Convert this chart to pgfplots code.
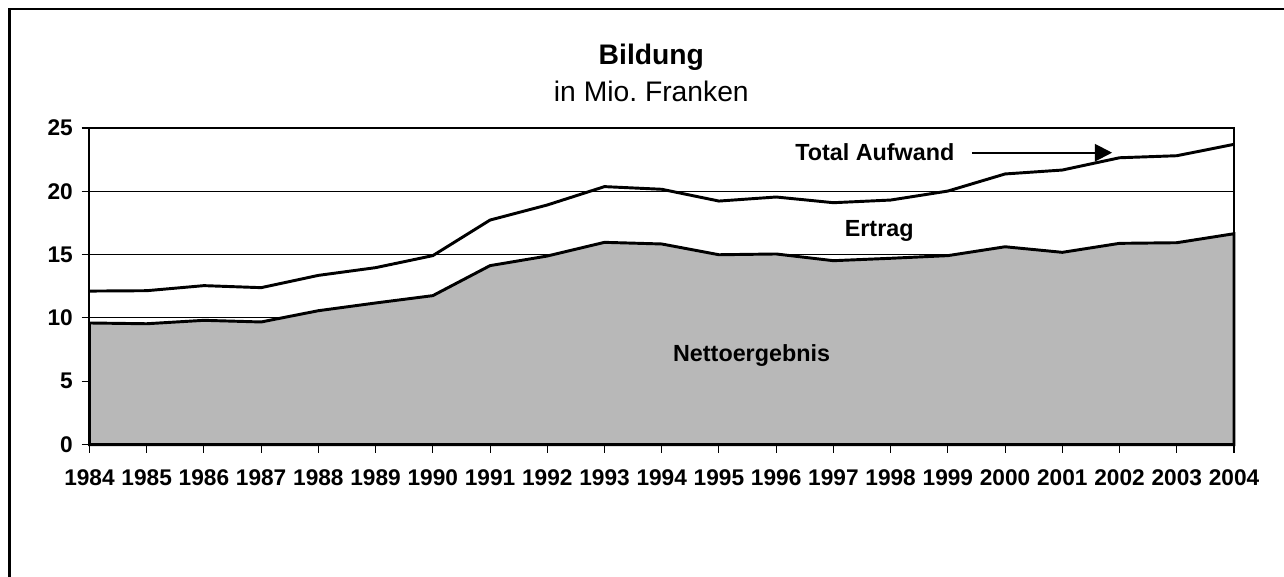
\documentclass[border=0pt]{standalone}
\usepackage{fontspec}
\setmainfont{Liberation Sans}
\usepackage{pgfplots}
\pgfplotsset{compat=1.18}
\usetikzlibrary{arrows.meta}
\definecolor{areagray}{RGB}{184,184,184}
\begin{document}
\begin{tikzpicture}
\useasboundingbox (0,0) rectangle (963pt,432pt);
\fill[white] (0,0) rectangle (963pt,432pt);
\draw[line width=1.6pt] (7.1pt,-5pt) -- (7.1pt,425.3pt) -- (975pt,425.3pt);
\node[anchor=base,font=\bfseries\fontsize{21.2}{22}\selectfont] at (488.5pt,383.8pt) {Bildung};
\node[anchor=base,font=\fontsize{21.2}{22}\selectfont] at (488.5pt,356.2pt) {in Mio.\ Franken};
\begin{axis}[
  scale only axis,
  width=858.4pt, height=237.4pt,
  at={(67.1pt,98.6pt)}, anchor=south west,
  xmin=1984, xmax=2004, ymin=0, ymax=25,
  xtick={1984,1985,...,2004},
  ytick={0,5,...,25},
  xtick pos=bottom, ytick pos=left,
  tick align=outside,
  major tick length=6pt,
  tick style={black, line width=0.8pt},
  ymajorgrids,
  grid style={black, line width=0.75pt},
  axis line style={line width=1.5pt},
  /pgf/number format/assume math mode=true,
  /pgf/number format/1000 sep={},
  ticklabel style={font=\bfseries\fontsize{17}{17}\selectfont},
  xticklabel style={yshift=-9pt},
  yticklabel style={xshift=-3pt},
  clip=false,
]
\addplot[draw=black, line width=2.2pt, fill=areagray] coordinates {
(1984,9.60) (1985,9.54) (1986,9.81) (1987,9.68) (1988,10.57) (1989,11.18)
(1990,11.76) (1991,14.13) (1992,14.89) (1993,15.97) (1994,15.84) (1995,14.99)
(1996,15.05) (1997,14.52) (1998,14.71) (1999,14.92) (2000,15.62) (2001,15.18)
(2002,15.89) (2003,15.94) (2004,16.65)} \closedcycle;
\addplot[draw=black, line width=2.2pt] coordinates {
(1984,12.12) (1985,12.15) (1986,12.55) (1987,12.39) (1988,13.36) (1989,13.97)
(1990,14.92) (1991,17.73) (1992,18.92) (1993,20.37) (1994,20.16) (1995,19.23)
(1996,19.55) (1997,19.10) (1998,19.31) (1999,20.02) (2000,21.37) (2001,21.68)
(2002,22.65) (2003,22.81) (2004,23.71)};
\draw[line width=1.5pt] (rel axis cs:0,0) rectangle (rel axis cs:1,1);
\draw[line width=1.5pt, -{Triangle[length=13pt,width=13pt]}] (axis cs:1999.42,23.05) -- (axis cs:2001.87,23.05);
\node[anchor=base west,font=\bfseries\fontsize{17.5}{17.5}\selectfont, inner sep=0pt] at (axis cs:1996.33,22.42) {Total Aufwand};
\node[anchor=base,font=\bfseries\fontsize{17.5}{17.5}\selectfont, inner sep=0pt] at (axis cs:1997.80,16.47) {Ertrag};
\node[anchor=base,font=\bfseries\fontsize{17.5}{17.5}\selectfont, inner sep=0pt] at (axis cs:1995.57,6.52) {Nettoergebnis};
\end{axis}
\end{tikzpicture}
\end{document}
